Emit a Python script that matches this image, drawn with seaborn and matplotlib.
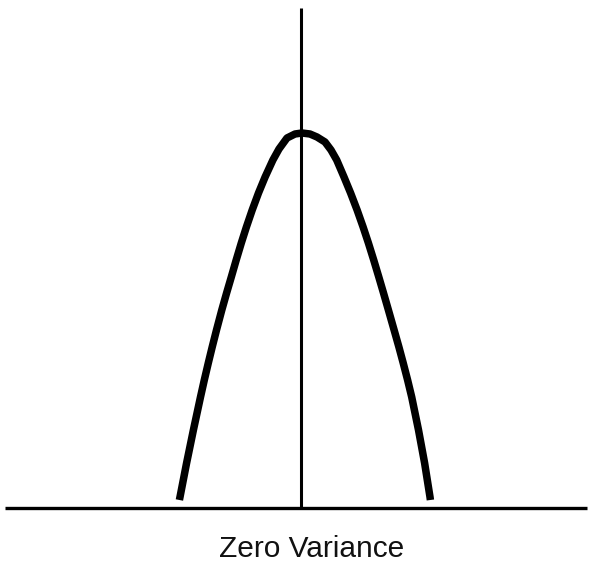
import numpy as np
import pandas as pd
import matplotlib
matplotlib.use("Agg")
import matplotlib.pyplot as plt
import seaborn as sns

# curve points: x from the centre line, height above the baseline
left_x = [-121.6, -121, -114.4, -107.6, -100.5, -96.7, -92.7, -88.8, -84.5, -79.2, -74.4,
          -69.7, -64.8, -59.7, -54.6, -48.8, -42.5, -35.9, -28.1, -22, -14, -6]
left_y = [7, 10, 44, 77, 110, 127, 144, 160, 177, 197, 214,
          230, 247, 264, 280, 297, 314, 330, 347, 358, 369, 373]
peak_x = [1]
peak_y = [374]
right_x = [9, 16, 24, 30, 35.7, 43, 49.6, 56.1, 62.1, 67.4, 72.7, 77.8,
           82.5, 87.4, 93.1, 97.9, 102.2, 106.6, 110.7, 117.5, 123.6, 129, 129.4]
right_y = [373, 370, 365, 357, 347, 330, 314, 297, 280, 264, 247, 230,
           214, 197, 177, 160, 144, 127, 110, 77, 44, 10, 7]
label = "Zero Variance"

df = pd.DataFrame({"x": left_x + peak_x + right_x,
                   "y": left_y + peak_y + right_y})

sns.set_style("white")
plt.rcParams['font.family'] = ['Liberation Sans', 'DejaVu Sans']

fig = plt.figure(figsize=(5.89, 5.64), dpi=100)
ax = fig.add_axes([0, 0, 1, 1])

# baseline and centre line
ax.plot([-296, 286], [-0.5, -0.5], color="black", lw=2.4, solid_capstyle="butt")
ax.plot([0, 0], [0, 499], color="black", lw=2.2, solid_capstyle="butt")

sns.lineplot(data=df, x="x", y="y", sort=False, color="black", lw=5.4, ax=ax)
ax.lines[-1].set_solid_capstyle("butt")
ax.lines[-1].set_solid_joinstyle("round")

ax.text(11, -42, label, ha="center", va="center", fontsize=21.5, color="#111111")

ax.set_xlim(-301, 288)
ax.set_ylim(-57, 507)
ax.axis("off")

fig.savefig("out.png", dpi=100, facecolor="white")
